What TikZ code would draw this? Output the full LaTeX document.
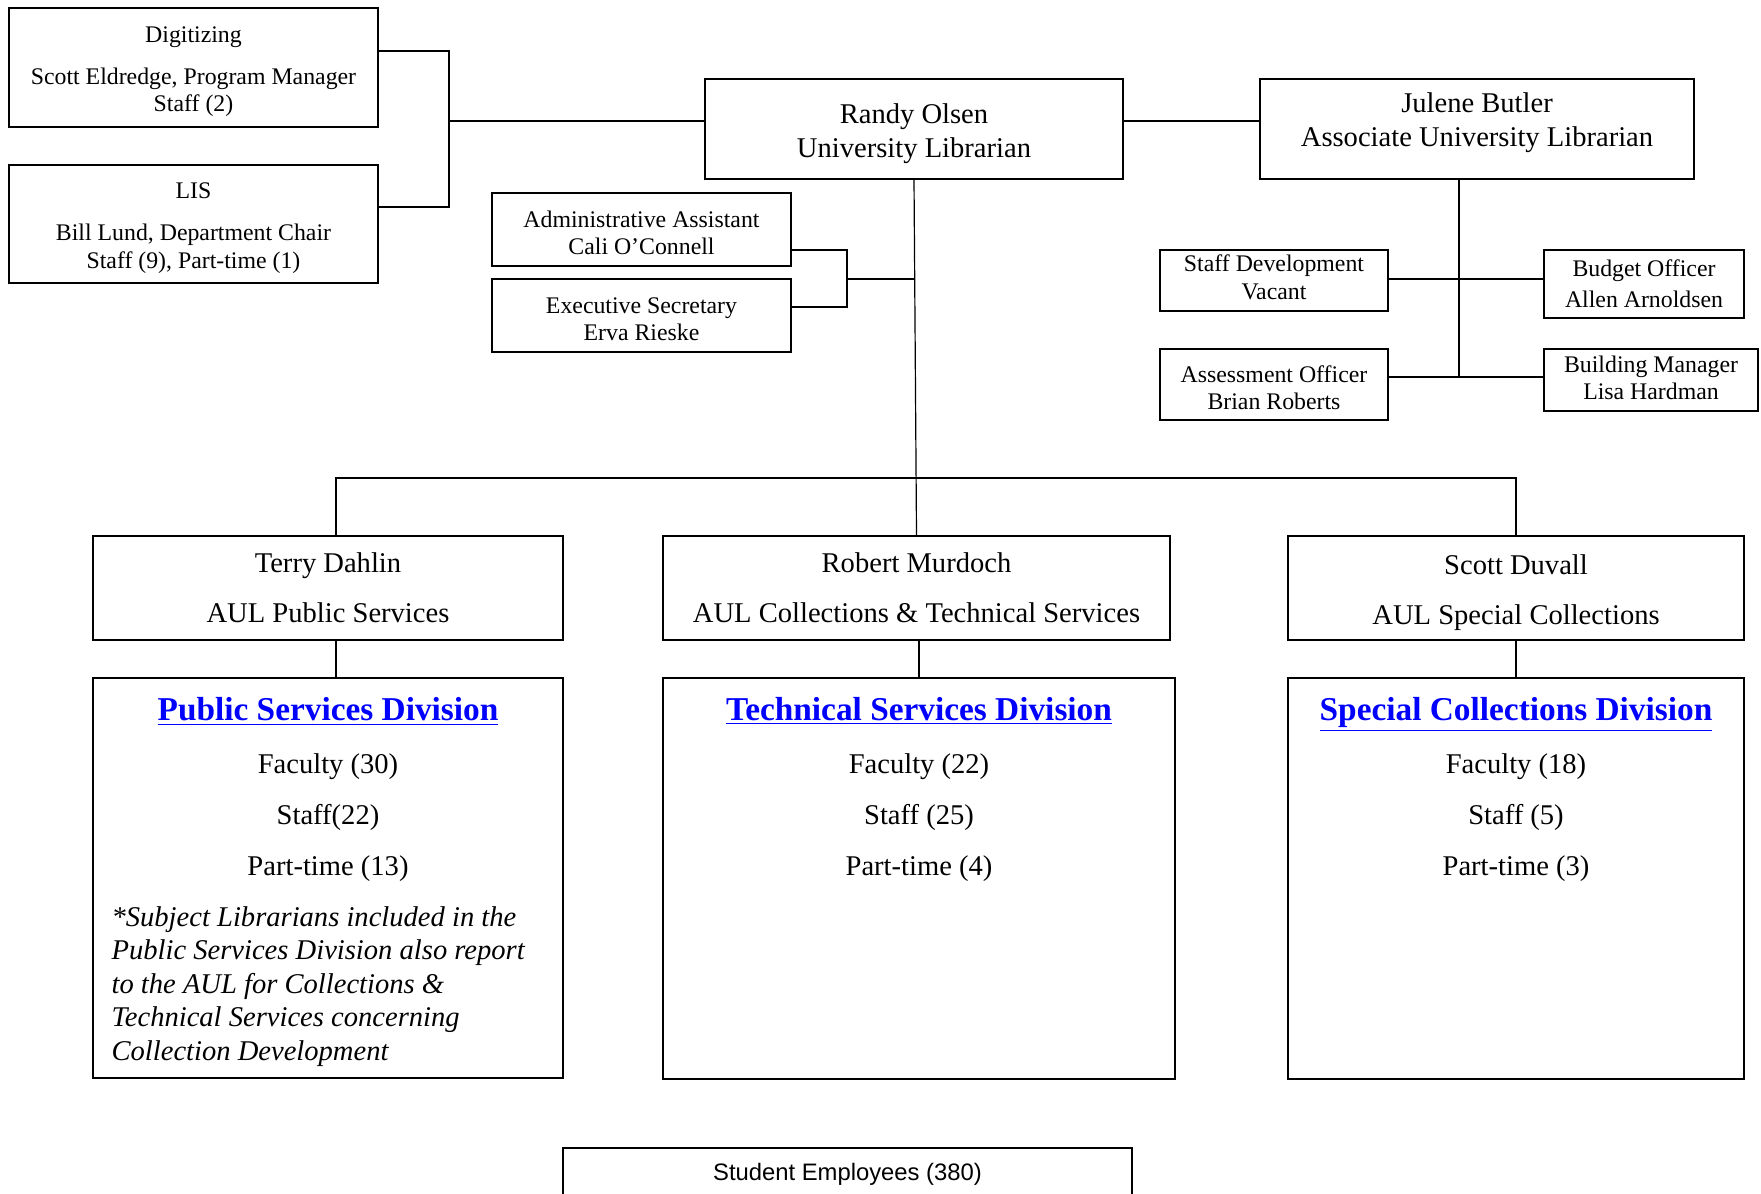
\documentclass[tikz,border=0pt]{standalone}
\usepackage{fontspec}
\setmainfont{Liberation Serif}
\newfontfamily\stufont{Liberation Sans}
\usetikzlibrary{positioning}
\newcommand\pxu{0.42pt}
\newcommand\lift{\rule{0pt}{1em}}
\newcommand\sink[1]{\rule[-#1]{0pt}{0pt}}
\begin{document}
\begin{tikzpicture}[x=0.42pt,y=-0.42pt,line width=0.5pt,inner sep=0pt,
box/.style n args={2}{draw,line width=0.7pt,minimum width=#1*\pxu,minimum height=#2*\pxu,align=center},
small/.style={font=\fontsize{10}{11.5}\selectfont},
big/.style={font=\fontsize{12}{14.3}\selectfont},
divtext/.style={anchor=base,align=center,font=\fontsize{12}{21.4}\selectfont},
note/.style={anchor=base west,align=left,font=\fontsize{12}{14.1}\selectfont\itshape}]
\useasboundingbox (0,0) rectangle (1761,1193);
% top row
\node[box={369}{119},small] (dig) at (193.5,67.5) {\lift Digitizing\\[6.3pt]Scott Eldredge, Program Manager\\Staff (2)};
\node[box={369}{118},small] (lis) at (193.5,224) {\lift LIS\\[6.3pt]Bill Lund, Department Chair\\Staff (9), Part-time (1)};
\node[box={418}{100},big] (randy) at (914,129) {\lift Randy Olsen\\University Librarian};
\node[box={434}{100}] (julene) at (1477,129) {};
\node[big,anchor=base,align=center] (juleneT) at (1477,146.7) {Julene Butler\\Associate University Librarian};
% staff of the librarians
\node[box={299}{73},small] (admin) at (641.5,229.5) {\lift Administrative Assistant\\Cali O'Connell};
\node[box={299}{73},small] (exec) at (641.5,315.5) {\lift Executive Secretary\\Erva Rieske};
\node[box={228}{61},small] (staffdev) at (1274,280.5) {Staff Development\\Vacant\sink{2.8pt}};
\node[box={200}{68},small] (budget) at (1644,284) {Budget Officer\\[1.5pt]Allen Arnoldsen};
\node[box={228}{71},small] (assess) at (1274,384.5) {\lift Assessment Officer\\Brian Roberts};
\node[box={214}{62},small] (building) at (1651,380) {Building Manager\\Lisa Hardman\sink{1.9pt}};
% AULs
\node[box={470}{104},big] (terry) at (328,588) {Terry Dahlin\\[6.7pt]AUL Public Services};
\node[box={507}{104},big] (murdoch) at (916.5,588) {Robert Murdoch\\[6.7pt]AUL Collections \& Technical Services};
\node[box={456}{104},big] (duvall) at (1516,588) {\lift Scott Duvall\\[6.7pt]AUL Special Collections};
% divisions
\node[box={470}{400}] (pubdiv) at (328,878) {};
\node[box={512}{401}] (techdiv) at (919,878.5) {};
\node[box={456}{401}] (specdiv) at (1516,878.5) {};
\newcommand\divhead[1]{{\fontsize{14}{16}\selectfont\bfseries\color{blue}\underline{#1}}}
\node[divtext] (pubdivT) at (328,875) {\divhead{Public Services Division}\\[0.8pt]Faculty (30)\\Staff(22)\\Part-time (13)};
\node[divtext] (techdivT) at (919,875) {\divhead{Technical Services Division}\\[0.8pt]Faculty (22)\\Staff (25)\\Part-time (4)};
\node[divtext] (specdivT) at (1516,875) {\divhead{Special Collections Division}\\[0.8pt]Faculty (18)\\Staff (5)\\Part-time (3)};
\node[note] (pubnote) at (111,1060.5) {*Subject Librarians included in the\\Public Services Division also report\\to the AUL for Collections \&\\Technical Services concerning\\Collection Development};
\node[box={569}{52},font=\stufont\fontsize{10}{12}\selectfont] (student) at (847.5,1174) {Student Employees (380)};
% connectors
\coordinate (dr) at (449,51);
\coordinate (lr) at (449,207);
\coordinate (dl) at (449,121);
\draw (dig.east|-dr) -- (dr) -- (lr) -- (lis.east|-lr);
\draw (dl) -- (randy.west|-dl);
\draw (randy.east|-dl) -- (julene.west|-dl);
\coordinate (ar) at (847,250);
\coordinate (er) at (847,307);
\coordinate (am) at (847,279);
\draw (admin.east|-ar) -- (ar) -- (er) -- (exec.east|-er);
\draw (am) -- (randy.south|-am);
\draw (randy.south) -- (murdoch.north);
\coordinate (bl) at (336,478);
\coordinate (br) at (1516,478);
\draw (terry.north-|bl) -- (bl) -- (br) -- (duvall.north);
\draw (terry.south-|bl) -- (pubdiv.north-|bl);
\draw (murdoch.south-|techdiv.north) -- (techdiv.north);
\draw (duvall.south) -- (specdiv.north);
\coordinate (jt) at (1459,279);
\coordinate (jb) at (1459,377);
\draw (julene.south-|jt) -- (jb);
\draw (staffdev.east|-jt) -- (budget.west|-jt);
\draw (assess.east|-jb) -- (building.west|-jb);
\end{tikzpicture}
\end{document}
